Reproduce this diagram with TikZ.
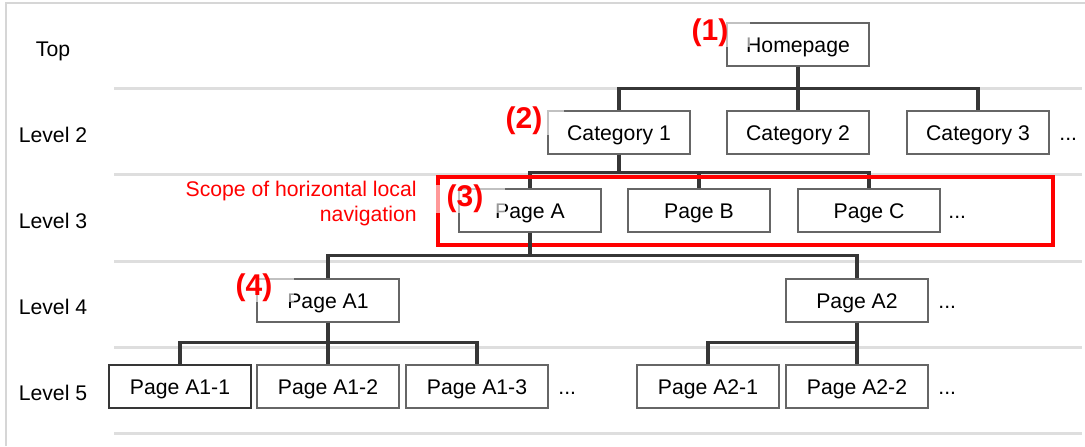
\documentclass[tikz,border=0pt]{standalone}
\usepackage{fontspec}
\setmainfont{Liberation Sans}
\usepackage{xcolor}
\usetikzlibrary{positioning}
\definecolor{boxgray}{HTML}{666666}
\definecolor{linegray}{HTML}{363636}
\definecolor{rulegray}{HTML}{DEDEDE}
\definecolor{framegray}{HTML}{D6D6D6}
\definecolor{markred}{HTML}{FF0000}

\begin{document}
\begin{tikzpicture}[
  x=0.5pt, y=-0.5pt,
  page/.style={draw=boxgray, line width=1pt, fill=white, inner sep=0pt,
               minimum width=71pt, minimum height=21.5pt,
               text height=10pt, text depth=2pt, font=\fontsize{10.6}{12.5}\selectfont},
  conn/.style={draw=linegray, line width=1.75pt},
  sepline/.style={draw=rulegray, line width=1.5pt},
  lvl/.style={anchor=base, font=\fontsize{10.6}{12.5}\selectfont},
  more/.style={inner sep=0pt, font=\fontsize{10.6}{12.5}\selectfont},
  num/.style={font=\fontsize{15}{16}\selectfont\bfseries, text=markred,
              fill=white, fill opacity=0.6, text opacity=1, inner sep=0pt,
              minimum width=40pt, minimum height=13pt},
  scopebox/.style={draw=markred, line width=1.8pt},
  note/.style={align=right, inner sep=0pt, text=markred,
               font=\fontsize{10.6}{12.5}\selectfont}
]
\useasboundingbox (0,0) rectangle (1085,446);

% frame and level rules
\draw[framegray, line width=0.8pt] (6,446) -- (6,3) -- (1085,3);
\foreach \y in {88,174,261,347,433}
  \draw[sepline] (114,\y) -- (1082,\y);

% level names
\node[lvl] (ltop) at (53,56) {Top};
\node[lvl] (l2) at (53,142) {Level 2};
\node[lvl] (l3) at (53,228) {Level 3};
\node[lvl] (l4) at (53,314) {Level 4};
\node[lvl] (l5) at (53,400) {Level 5};

% pages
\node[page] (home) at (798,44) {Homepage};
\node[page] (cat1) at (619,132) {Category 1};
\node[page] (cat2) at (798,132) {Category 2};
\node[page] (cat3) at (978,132) {Category 3};
\node[page] (pga) at (530,210) {Page A};
\node[page] (pgb) at (699,210) {Page B};
\node[page] (pgc) at (869,210) {Page C};
\node[page] (pga1) at (328,300) {Page A1};
\node[page] (pga2) at (857,300) {Page A2};
\node[page, draw=linegray] (pga11) at (180,386) {Page A1-1};
\node[page] (pga12) at (328,386) {Page A1-2};
\node[page] (pga13) at (477,386) {Page A1-3};
\node[page] (pga21) at (708,386) {Page A2-1};
\node[page] (pga22) at (857,386) {Page A2-2};

\node[more, right=4.5pt of cat3.base east, anchor=base west] (morecat) {...};
\node[more, right=3.5pt of pgc.base east, anchor=base west] (morepg) {...};
\node[more, right=4.5pt of pga2.base east, anchor=base west] (morea) {...};
\node[more, right=4.5pt of pga13.base east, anchor=base west] (morea1) {...};
\node[more, right=4.5pt of pga22.base east, anchor=base west] (morea2) {...};

% tree lines
\draw[conn] (home.south) -- ++(0,22) -| (cat1.north);
\draw[conn] (home.south) -- ++(0,22) -| (cat3.north);
\draw[conn] (home.south) -- (cat2.north);
\draw[conn] (cat1.south) -- ++(0,18) -| (pga.north);
\draw[conn] (cat1.south) -- ++(0,18) -| (pgc.north);
\draw[conn] (pgb.north) -- ++(0,-16);

% local navigation scope
\draw[scopebox] (438,177) rectangle (1053,245);
\node[note, anchor=east] (scopenote) at (417,204) {Scope of horizontal local\\navigation};

\draw[conn] (pga.south) -- ++(0,23) -| (pga1.north);
\draw[conn] (pga.south) -- ++(0,23) -| (pga2.north);
\draw[conn] (pga1.south) -- ++(0,20) -| (pga11.north);
\draw[conn] (pga1.south) -- ++(0,20) -| (pga13.north);
\draw[conn] (pga1.south) -- (pga12.north);
\draw[conn] (pga2.south) -- ++(0,20) -| (pga21.north);
\draw[conn] (pga2.south) -- (pga22.north);

% step numbers
\node[num] (n1) at (710,33) {(1)};
\node[num] (n2) at (524,121) {(2)};
\node[num] (n3) at (465,199) {(3)};
\node[num] (n4) at (254,288) {(4)};
\end{tikzpicture}
\end{document}
